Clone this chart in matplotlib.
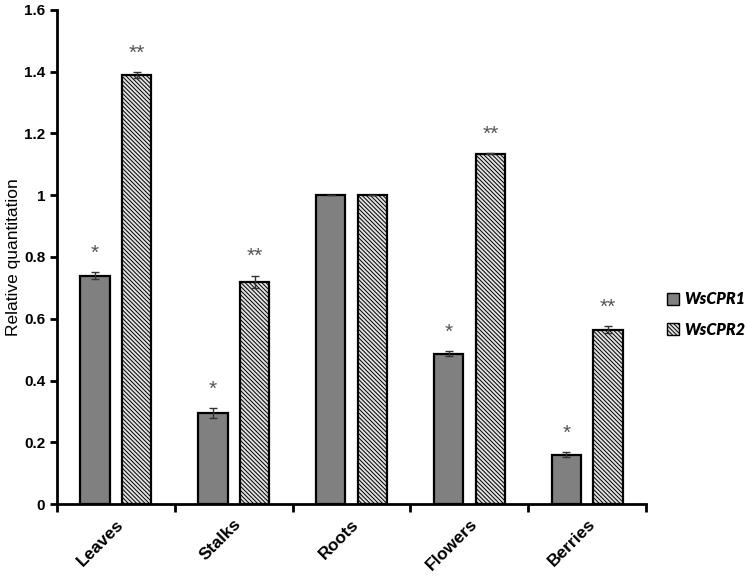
import matplotlib
matplotlib.use("Agg")
import matplotlib.pyplot as plt
import numpy as np
from matplotlib.patches import Patch

categories = ["Leaves", "Stalks", "Roots", "Flowers", "Berries"]
cpr1 = [0.74, 0.295, 1.0, 0.487, 0.16]
cpr1_err = [0.01, 0.015, 0.0, 0.008, 0.007]
cpr2 = [1.39, 0.72, 1.0, 1.135, 0.565]
cpr2_err = [0.01, 0.02, 0.0, 0.003, 0.01]
sig1 = ["*", "*", "", "*", "*"]
sig2 = ["**", "**", "", "**", "**"]
series_names = ["WsCPR1", "WsCPR2"]

plt.rcParams['font.family'] = ['Liberation Sans', 'DejaVu Sans']
plt.rcParams['hatch.linewidth'] = 0.7
plt.rcParams['hatch.color'] = '#3a3a3a'

fig = plt.figure(figsize=(7.47, 5.77), dpi=100)
ax = fig.add_axes([0.0763, 0.1265, 0.865 - 0.0763, 0.9827 - 0.1265])

hatch = '\\' * 8
x = np.arange(len(categories))
w = 0.25
off = 0.177
ax.bar(x - off, cpr1, w, color='#808080', edgecolor='black', linewidth=1.6,
       yerr=cpr1_err, error_kw=dict(ecolor='#333333', elinewidth=1, capsize=3, capthick=1))
ax.bar(x + off, cpr2, w, color='#e0e0e0', edgecolor='black', linewidth=1.6, hatch=hatch,
       yerr=cpr2_err, error_kw=dict(ecolor='#333333', elinewidth=1, capsize=3, capthick=1))

for i in range(len(categories)):
    if sig1[i]:
        ax.text(x[i] - off, cpr1[i] + cpr1_err[i] + 0.03, sig1[i], ha='center', va='bottom',
                fontsize=15, color='#555555')
    if sig2[i]:
        ax.text(x[i] + off, cpr2[i] + cpr2_err[i] + 0.03, sig2[i], ha='center', va='bottom',
                fontsize=15, color='#555555')

ax.set_xlim(-0.5, len(categories) - 0.5)
ax.set_ylim(0, 1.6)
ax.set_yticks(np.arange(0, 1.61, 0.2))
ax.set_yticklabels(["0", "0.2", "0.4", "0.6", "0.8", "1", "1.2", "1.4", "1.6"],
                   fontsize=11, fontweight='bold')
ax.set_xticks(x)
ax.set_xticklabels(categories, rotation=45, ha='right', rotation_mode='anchor',
                   fontsize=12.5, fontweight='bold')
ax.set_xticks(np.arange(-0.5, len(categories), 1.0), minor=True)
ax.tick_params(axis='x', which='major', length=0, pad=9)
ax.tick_params(axis='x', which='minor', length=6, width=2, direction='out')
ax.tick_params(axis='y', length=5, width=2, direction='out')
ax.set_ylabel("Relative quantitation", fontsize=12.5)
ax.yaxis.set_label_coords(-0.061, 0.5)

for s in ['top', 'right']:
    ax.spines[s].set_visible(False)
for s in ['left', 'bottom']:
    ax.spines[s].set_linewidth(2)

handles = [Patch(facecolor='#808080', edgecolor='black', linewidth=1),
           Patch(facecolor='#e0e0e0', edgecolor='black', linewidth=1, hatch=hatch)]
fig.legend(handles, series_names, loc='center left', bbox_to_anchor=(0.893, 0.455),
           frameon=False, handlelength=0.75, handleheight=0.75, handletextpad=0.3,
           labelspacing=0.9, borderpad=0, borderaxespad=0,
           prop=dict(family='Lato', style='italic', weight='heavy', size=11.5))

fig.savefig("out.png", dpi=100)
